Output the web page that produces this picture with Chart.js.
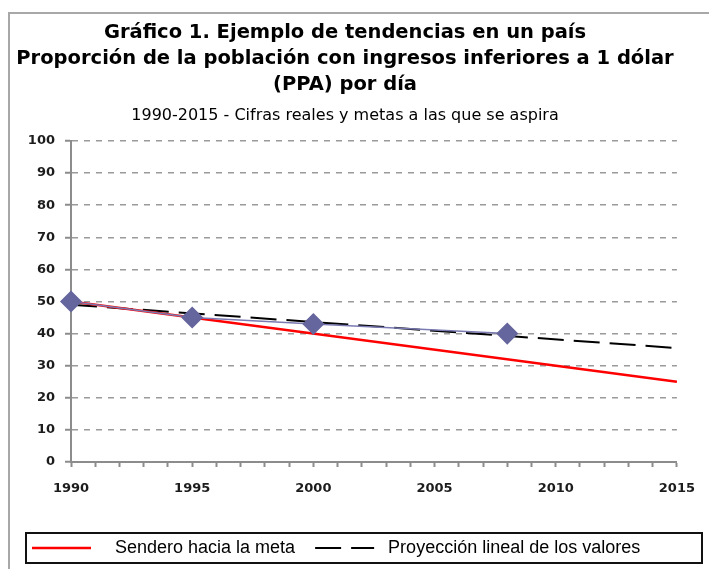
<!DOCTYPE html>
<html>
<head>
<meta charset="utf-8">
<title>Gráfico 1</title>
<script src="https://cdn.jsdelivr.net/npm/chart.js@4.4.1/dist/chart.umd.min.js"></script>
<style>
    html, body { margin: 0; padding: 0; background: #fff; overflow: hidden; }
    #frame { position: absolute; left: 8px; top: 12px; width: 760px; height: 620px; border: 2px solid #a8a8a8; }
    #wrap { position: absolute; left: 0; top: 0; width: 709px; height: 569px; }
</style>
</head>
<body>
<div id="frame"></div>
<div id="wrap"><canvas id="chart" width="709" height="569"></canvas></div>
<script>
// Datos
const realYears = [1990, 1995, 2000, 2008];
const realValues = [50, 45, 43, 40];
const goalYears = [1990, 2015];
const goalValues = [50, 25];
const trendYears = [1990, 2015];
const trendValues = [49, 35.5];

const seriesNames = ['Cifras reales', 'Sendero hacia la meta', 'Proyección lineal de los valores'];
const titleLines = [
    'Gráfico 1. Ejemplo de tendencias en un país',
    'Proporción de la población con ingresos inferiores a 1 dólar',
    '(PPA) por día'
];
const subtitleText = '1990-2015 - Cifras reales y metas a las que se aspira';
const yMin = 0, yMax = 100, yStep = 10;
const xMin = 1990, xMax = 2015, xLabelStep = 5;

function toPoints(xs, ys) {
    return xs.map((x, i) => ({ x: x, y: ys[i] }));
}

// caja negra alrededor de la leyenda
const legendBox = {
    id: 'legendBox',
    afterDraw(chart) {
        const hb = chart.legend.legendHitBoxes[0];
        if (!hb) return;
        const cy = hb.top + hb.height / 2;
        const ctx = chart.ctx;
        ctx.save();
        ctx.strokeStyle = '#111';
        ctx.lineWidth = 2;
        ctx.strokeRect(26, Math.round(cy - 15), 676, 30);
        ctx.restore();
    }
};

const tickFont = { family: 'DejaVu Sans', size: 13, weight: 'bold' };
const axisGray = '#8c8c8c';

new Chart(document.getElementById('chart'), {
    type: 'line',
    data: {
        datasets: [
            {
                label: seriesNames[0],
                data: toPoints(realYears, realValues),
                borderColor: '#7a7ab2',
                borderWidth: 1.5,
                pointStyle: 'rectRot',
                pointRadius: 10,
                pointHoverRadius: 10,
                pointBackgroundColor: '#66669e',
                pointBorderColor: '#66669e',
                clip: false,
                order: 0
            },
            {
                label: seriesNames[1],
                data: toPoints(goalYears, goalValues),
                borderColor: '#ff0000',
                borderWidth: 2.5,
                pointRadius: 0,
                order: 1
            },
            {
                label: seriesNames[2],
                data: toPoints(trendYears, trendValues),
                borderColor: '#000',
                borderWidth: 2,
                borderDash: [26, 10],
                pointRadius: 0,
                order: 2
            }
        ]
    },
    options: {
        responsive: false,
        animation: false,
        layout: {
            padding: { left: 12, right: 31, top: 20, bottom: 2 }
        },
        plugins: {
            title: {
                display: true,
                text: titleLines,
                color: '#000',
                font: { family: 'DejaVu Sans', size: 19.5, weight: 'bold', lineHeight: 1.33 },
                padding: { top: 0, bottom: 8 }
            },
            subtitle: {
                display: true,
                text: subtitleText,
                color: '#000',
                font: { family: 'DejaVu Sans', size: 16, lineHeight: 1.2 },
                padding: { top: 0, bottom: 16 }
            },
            legend: {
                position: 'bottom',
                align: 'start',
                labels: {
                    color: '#000',
                    font: { family: 'Liberation Sans', size: 18 },
                    usePointStyle: true,
                    pointStyle: 'line',
                    pointStyleWidth: 59,
                    padding: 20,
                    filter: item => item.datasetIndex !== 0,
                    sort: (a, b) => a.datasetIndex - b.datasetIndex,
                    generateLabels(chart) {
                        const items = Chart.defaults.plugins.legend.labels.generateLabels(chart);
                        items.forEach(it => {
                            const ds = chart.data.datasets[it.datasetIndex];
                            it.lineDash = ds.borderDash || [];
                            it.text = (it.datasetIndex === 1 ? '   ' : ' ') + it.text;
                        });
                        return items;
                    }
                }
            },
            tooltip: { enabled: false }
        },
        scales: {
            x: {
                type: 'linear',
                min: xMin,
                max: xMax,
                afterFit(scale) { scale.height = 57; },
                ticks: {
                    stepSize: 1,
                    autoSkip: false,
                    maxRotation: 0,
                    padding: 14,
                    color: '#1c1c1c',
                    font: tickFont,
                    callback: v => (v % xLabelStep === 0 ? String(v) : '')
                },
                grid: {
                    drawOnChartArea: false,
                    tickLength: 5,
                    tickColor: axisGray,
                    tickWidth: 2
                },
                border: { color: axisGray, width: 2 }
            },
            y: {
                min: yMin,
                max: yMax,
                afterFit(scale) { scale.width = 59; },
                ticks: {
                    stepSize: yStep,
                    padding: 10,
                    color: '#1c1c1c',
                    font: tickFont
                },
                grid: {
                    color: '#9a9a9a',
                    lineWidth: 1.5,
                    tickLength: 6,
                    tickColor: axisGray,
                    tickWidth: 2,
                    tickBorderDash: []
                },
                border: { color: axisGray, width: 2, dash: [6, 6] }
            }
        }
    },
    plugins: [legendBox]
});
</script>
</body>
</html>
